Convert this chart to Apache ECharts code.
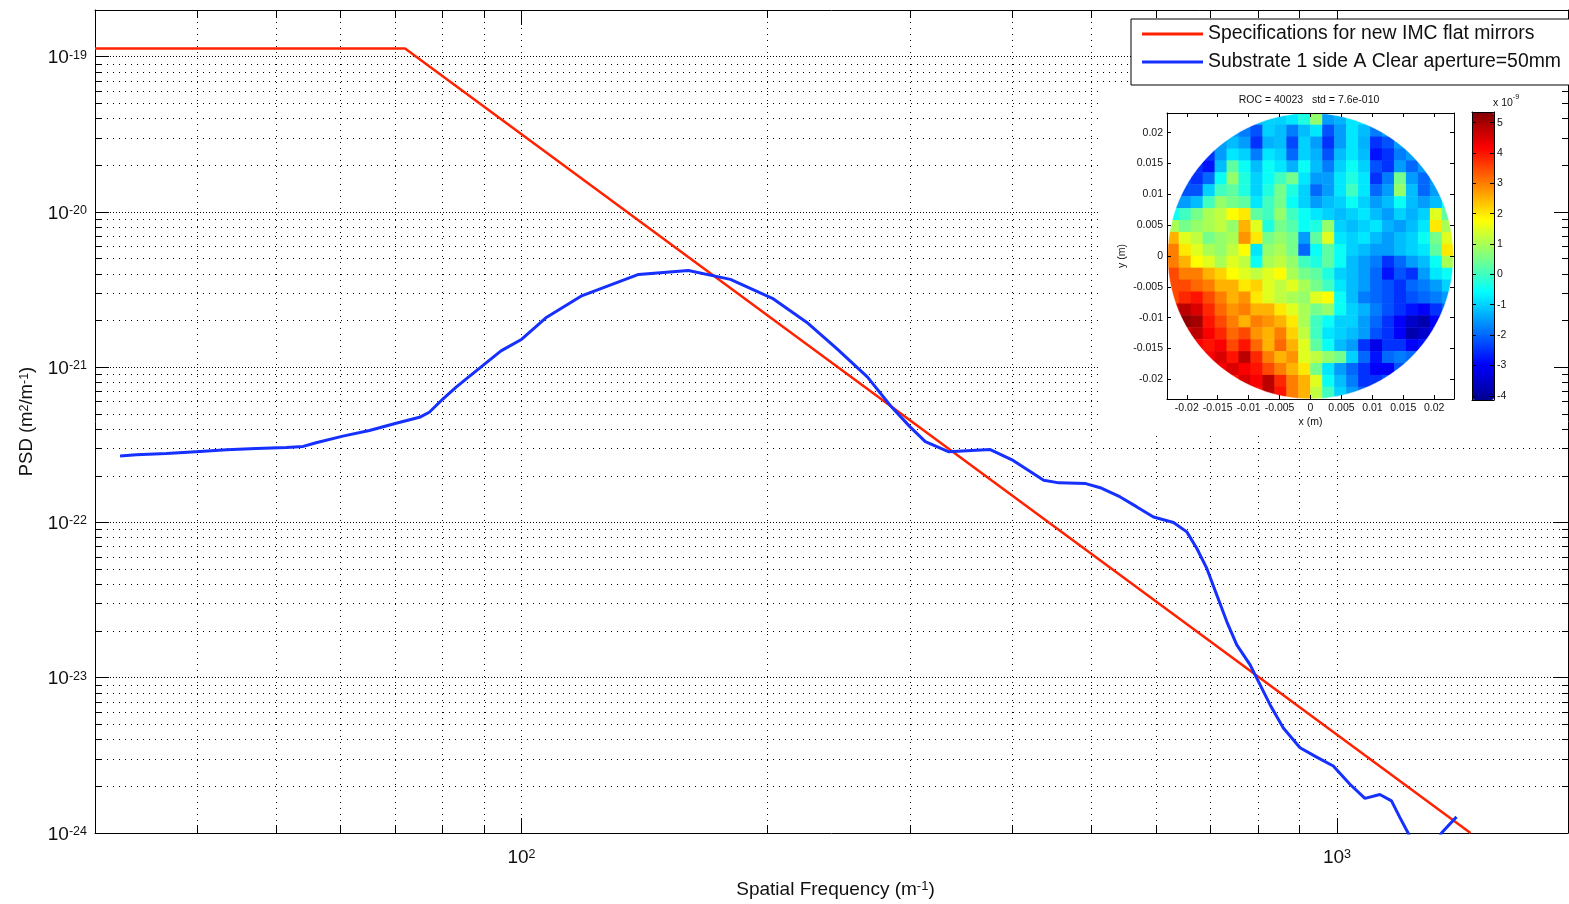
<!DOCTYPE html>
<html>
<head>
<meta charset="utf-8">
<script src="https://cdn.jsdelivr.net/npm/echarts@6/dist/echarts.min.js"></script>
<style>
html,body{margin:0;padding:0;background:#fff;}
#c{width:1569px;height:904px;}
</style>
</head>
<body>
<div id="c"></div>
<script>
// ---------------- data ----------------
const SPEC_NAME = 'Specifications for new IMC flat mirrors';
const SUB_NAME = 'Substrate 1 side A Clear aperture=50mm';

const specFreq = [30, 72.0, 1458];
const specPsd = [1.13e-19, 1.13e-19, 1.0e-24];

const substrateFreq = [32.2, 33.7, 36.7, 39.9, 43.5, 47.3, 51.5, 54.0, 56.0, 60.4, 65.1, 70.2, 75.0, 77.1, 80.1, 83.1, 85.5, 94.4, 100.1, 107.4, 118.3, 139.2, 160.2, 180.4, 203.1, 223.7, 244.0, 265.7, 283.5, 299.6, 312.8, 333.8, 375.7, 400.8, 436.9, 456.2, 492.0, 512.5, 542.3, 568.4, 595.7, 630.3, 654.5, 673.3, 692.5, 712.3, 732.6, 753.6, 782.6, 801.0, 827.8, 859.5, 901.0, 944.3, 989.7, 1037.3, 1082.2, 1128.7, 1166.5, 1194.2, 1222.4, 1281.6, 1343.3, 1401.5];
const substratePsd = [2.68e-22, 2.73e-22, 2.78e-22, 2.86e-22, 2.94e-22, 3.00e-22, 3.04e-22, 3.09e-22, 3.26e-22, 3.60e-22, 3.91e-22, 4.36e-22, 4.76e-22, 5.13e-22, 6.24e-22, 7.42e-22, 8.39e-22, 1.275e-21, 1.515e-21, 2.10e-21, 2.87e-21, 3.96e-21, 4.20e-21, 3.68e-21, 2.78e-21, 1.95e-21, 1.31e-21, 8.64e-22, 5.65e-22, 4.13e-22, 3.32e-22, 2.86e-22, 2.95e-22, 2.51e-22, 1.87e-22, 1.80e-22, 1.78e-22, 1.675e-22, 1.46e-22, 1.26e-22, 1.086e-22, 9.99e-23, 8.70e-23, 6.80e-23, 5.06e-23, 3.41e-23, 2.30e-23, 1.63e-23, 1.21e-23, 9.48e-24, 6.71e-24, 4.75e-24, 3.54e-24, 3.08e-24, 2.70e-24, 2.06e-24, 1.67e-24, 1.77e-24, 1.61e-24, 1.26e-24, 1.0e-24, 6.0e-25, 1.0e-24, 1.27e-24];

// axis ranges and ticks
const X_MIN = 30, X_MAX = 1920;
const Y_MIN = 1e-24, Y_MAX = 2e-19;
const xDecadeTicks = [100, 1000];
const xMinorTicks = [40, 50, 60, 70, 80, 90, 100, 200, 300, 400, 500, 600, 700, 800, 900, 1000];
const yDecadeExponents = [-24, -23, -22, -21, -20, -19];
const yMinorMantissas = [2, 3, 4, 5, 6, 7, 8, 9];
const yMinorExponents = [-24, -23, -22, -21, -20];

// inset surface map (units of 1e-9 m), rows top (y=+) to bottom, 24 x 24 cells
const _ = null;
const INSET_LIM = 0.0232;
const CIRCLE_R = 0.0231;
const insetTicks = [-0.02, -0.015, -0.01, -0.005, 0, 0.005, 0.01, 0.015, 0.02];
const colorbarTicks = [-4, -3, -2, -1, 0, 1, 2, 3, 4, 5];
const CB_MIN = -4.14, CB_MAX = 5.35;
const surfaceRows = [
  [_,_,_,_,_,_,_, -1.2,-1,-1,-0.8,-0.3,0.8,-1.5,-1.3,-0.8,-0.8, _,_,_,_,_,_,_],
  [_,_,_,_,_, -1.5,-1.8,-2.2,-1,-1.2,-1.8,-1.2,-0.8,-2.2,-1.5,-0.8,-1.2,-1.8,-1.5, _,_,_,_,_],
  [_,_,_,_, -1.5,-1.2,-1.5,-2.5,-1.3,-1.2,-2.3,-1,-1.5,-2.5,-1.5,-0.8,-1.3,-2.5,-2.2,-1.5, _,_,_,_],
  [_,_, -2,-2.5,-1.5,-0.8,-1,-1.8,-0.8,-1,-2,-1,-1.3,-2.2,-1.2,-0.8,-1.2,-2.8,-2.5,-1.8,-1.5,-1.2, _,_],
  [_,_, -2.5,-2.8,-1.2,0.3,-0.5,-1.2,-0.5,-0.8,-1.3,-0.5,-1.2,-1.8,-1,-0.5,-1,-2.2,-2.5,-1.5,-2,-1.5, _,_],
  [_, -2.2,-2.5,-2,-0.5,0.8,-0.3,-1,-0.5,0,0.5,-0.8,-1.5,-1.5,-0.8,-0.3,-0.8,-2.5,-1.8,0.5,-1.5,-2,-1.5, _],
  [-1.8,-2.2,-2.2,-1,0,0.3,-0.3,-1,-0.3,0.5,-0.3,-1,-2,-1.5,-0.8,0,-0.8,-2,-1.5,0.8,-1.2,-2,-1.5,-1],
  [-1.5,-1.5,-1.2,0,0.8,0.5,0.3,-0.8,0,0.5,-0.5,-1,-1.5,-1.2,-1,-0.5,-1,-1.5,-1.2,-0.5,-1.2,-1.5,-1.2,-0.5],
  [-0.5,0,0.5,1,1.2,1.8,2,0.3,0,0.8,0,-0.5,-0.8,-1,-1.2,-1,-0.8,-1.2,-1.5,-1,-1.3,-1,1.5,0.3],
  [1,0.5,0.8,1,1.2,0.8,2.5,1.5,-0.3,0.5,0.2,-0.5,-0.3,0.8,-1,-1.2,-1,-0.8,-1.3,-1.5,-1.2,-0.8,2,1],
  [2.5,1.5,1.2,0.5,0.8,1,2.8,2,0.5,0.8,0.5,-1.5,0.3,1.5,-0.8,-1,-0.8,-1.2,-1.5,-1.2,-1,-0.5,0.5,1.5],
  [3,2,1.5,1,0.8,1.2,1.8,-0.8,0.8,1,0.5,-2,-0.5,0.3,-0.5,-1,-1.2,-1.5,-1.5,-1.2,-1,-0.8,0.3,2],
  [3,2.5,1.8,1.5,1,1.5,1.2,-0.5,1,1.2,0.8,0,-0.3,0.3,-0.5,-1.2,-1.5,-1.8,-2.5,-2,-1.5,-1.2,-0.5,1],
  [3.5,3,3,2.5,2.2,1.8,1.5,1.2,1.5,1.8,1,0.5,0.3,-0.3,-1,-1.2,-1.5,-2,-2.8,-2.2,-2.5,-1.5,-0.8,-0.5],
  [3.5,3.5,3.2,3,2.5,2.5,2,2.2,1.5,1.2,1.5,1,0.5,0,-0.8,-1.2,-1.5,-2,-2.2,-2.5,-2,-1.8,-1.5,-1],
  [3.5,3.8,4,3.5,3,2.5,2.8,2,1.5,1.2,1,0.8,1.5,1.8,-0.5,-1.2,-1.8,-2,-2.2,-2.5,-2.2,-2,-1.8,-1.5],
  [4.5,4.8,4.5,3.8,3.2,2.8,3,2.5,2.5,2,1.5,1,0.5,0.8,-0.5,-1,-1.3,-1.8,-2.2,-2.5,-2.8,-3,-2.5,-2],
  [4.5,5.2,5,4,3.5,3,2.5,3,2.8,2.5,2,1,0,-0.5,-1,-1,-1.5,-2,-2.5,-3,-3.5,-3.8,-3,-2.5],
  [_, 4.5,4.8,4.2,3.8,3.2,3.5,2.8,2.5,3,2.2,1.2,0,-0.8,-1,-1.2,-1.5,-2.2,-2.5,-3,-3.8,-3.5,-3, _],
  [_, 4,4.2,4,4.2,3.5,4,3.2,2.5,3.2,2.5,1.5,0.3,-0.5,-1.2,-1.5,-2.5,-3.2,-2.5,-2.5,-3,-2.8,-2.5, _],
  [_,_, 4,4.2,4.5,4,4.8,3.8,3,2.5,2.8,1.5,1.2,0.8,0.5,-1,-2,-2.8,-2,-1.8,-2,-2.2, _,_],
  [_,_,_, 4,4.2,4.5,4.2,4,3.5,3,2.5,2,0.5,-0.8,-1.5,-2,-2.5,-3,-3,-2.2,-2, _,_,_],
  [_,_,_,_,_, 4,4.5,4.2,4.8,3.8,3,2.5,1.5,-0.5,-1.2,-1.8,-2.5,-2.5,-2.2, _,_,_,_,_],
  [_,_,_,_,_,_,_, 4,4.8,4,3,2.5,1.2,0,-1,-1.5,-2, _,_,_,_,_,_,_]
];
const jetColors = ['#00008f', '#0000ff', '#0080ff', '#00ffff', '#80ff80', '#ffff00', '#ff8000', '#ff0000', '#800000'];

// ---------------- build ----------------
const L = Math.log10;
const FONT = "'Liberation Sans', Arial, Helvetica, sans-serif";
const TXT = '#111';

const yMinorTicks = [];
yMinorExponents.forEach(e => yMinorMantissas.forEach(m => yMinorTicks.push(m * Math.pow(10, e))));

const cellIdx = surfaceRows[0].map((v, j) => String(j));
const heatData = [];
surfaceRows.forEach((row, i) => row.forEach((v, j) => { if (v !== null) heatData.push([j, i, v]); }));

const tickRich = {
  b: {fontSize: 19, fontFamily: FONT, color: TXT, verticalAlign: 'bottom', lineHeight: 19, padding: [7, 0, 0, 0]},
  s: {fontSize: 12.5, fontFamily: FONT, color: TXT, verticalAlign: 'top', lineHeight: 12.5}
};
const pow10Fmt = v => '{b|10}{s|' + Math.round(v) + '}';

function ax(o) {
  const base = {
    type: 'value',
    axisLine: {show: false, onZero: false, lineStyle: {color: '#000', width: 1}},
    axisTick: {show: false},
    axisLabel: {show: false},
    splitLine: {show: false},
    silent: true
  };
  const r = Object.assign({}, base, o);
  r.axisLine = Object.assign({}, base.axisLine, o.axisLine || {});
  return r;
}
const tickStyle = {color: '#000', width: 1};
const insetLabel = {fontSize: 10.5, fontFamily: FONT, color: TXT};

const option = {
  animation: false,
  backgroundColor: '#fff',
  grid: [
    {left: 95, top: 10, right: 1, bottom: 68},
    {left: 1167, top: 113, width: 287, height: 286},
    {left: 1167, top: 113, width: 287, height: 286},
    {left: 1472, top: 112, width: 22, height: 288}
  ],
  xAxis: [
    ax({gridIndex: 0, position: 'bottom', min: L(X_MIN), max: L(X_MAX),
      axisLine: {show: true},
      axisTick: {show: true, inside: true, length: 8, customValues: xMinorTicks.map(L), lineStyle: tickStyle},
      splitLine: {show: true, lineStyle: {color: '#000', width: 1, type: [1, 5]}}, z: 0}),
    ax({gridIndex: 0, position: 'bottom', min: L(X_MIN), max: L(X_MAX),
      axisTick: {show: true, inside: true, length: 15, customValues: xDecadeTicks.map(L), lineStyle: tickStyle},
      axisLabel: {show: true, customValues: xDecadeTicks.map(L), formatter: pow10Fmt, rich: tickRich, margin: 15},
      name: '{t|Spatial Frequency (m}{s|-1}{t|)}', nameLocation: 'middle', nameGap: 47,
      nameTextStyle: {padding: [0, 0, 0, 8], rich: {
        t: {fontSize: 19, fontFamily: FONT, color: TXT, verticalAlign: 'bottom', lineHeight: 19, padding: [6, 0, 0, 0]},
        s: {fontSize: 13, fontFamily: FONT, color: TXT, verticalAlign: 'top', lineHeight: 13}}},
      z: 0}),
    ax({gridIndex: 0, position: 'top', min: L(X_MIN), max: L(X_MAX), axisLine: {show: true},
      axisTick: {show: true, inside: true, length: 8, customValues: xMinorTicks.map(L), lineStyle: tickStyle}, z: 6}),
    ax({gridIndex: 0, position: 'top', min: L(X_MIN), max: L(X_MAX),
      axisTick: {show: true, inside: true, length: 15, customValues: xDecadeTicks.map(L), lineStyle: tickStyle}, z: 6}),
    ax({gridIndex: 1, position: 'bottom', min: -INSET_LIM, max: INSET_LIM, axisLine: {show: true},
      axisTick: {show: true, inside: true, length: 4, customValues: insetTicks, lineStyle: tickStyle},
      axisLabel: Object.assign({show: true, customValues: insetTicks, margin: 4, formatter: v => String(v)}, insetLabel),
      name: 'x (m)', nameLocation: 'middle', nameGap: 18, nameTextStyle: insetLabel, z: 6}),
    ax({gridIndex: 1, position: 'top', min: -INSET_LIM, max: INSET_LIM, axisLine: {show: true},
      axisTick: {show: true, inside: true, length: 4, customValues: insetTicks, lineStyle: tickStyle}, z: 6}),
    {type: 'category', gridIndex: 2, data: cellIdx, show: false},
    ax({gridIndex: 3, position: 'bottom', min: 0, max: 1, axisLine: {show: true}, z: 6}),
    ax({gridIndex: 3, position: 'top', min: 0, max: 1, axisLine: {show: true}, z: 6})
  ],
  yAxis: [
    ax({gridIndex: 0, position: 'left', min: L(Y_MIN), max: L(Y_MAX), axisLine: {show: true},
      axisTick: {show: true, inside: true, length: 6, customValues: yMinorTicks.map(L), lineStyle: tickStyle},
      splitLine: {show: true, lineStyle: {color: '#000', width: 1, type: [1, 5]}}, z: 0}),
    ax({gridIndex: 0, position: 'left', min: L(Y_MIN), max: L(Y_MAX),
      axisTick: {show: true, inside: true, length: 14, customValues: yDecadeExponents, lineStyle: tickStyle},
      axisLabel: {show: true, customValues: yDecadeExponents, formatter: pow10Fmt, rich: tickRich, margin: 8, padding: [5, 0, 2, 0]},
      splitLine: {show: true, lineStyle: {color: '#000', width: 1, type: [1, 2]}},
      name: '{t|PSD (m}{s|2}{t|/m}{s|-1}{t|)}', nameLocation: 'middle', nameGap: 58, nameRotate: 90,
      nameTextStyle: {rich: {
        t: {fontSize: 18.5, fontFamily: FONT, color: TXT, verticalAlign: 'bottom', lineHeight: 18.5, padding: [6, 0, 0, 0]},
        s: {fontSize: 12.5, fontFamily: FONT, color: TXT, verticalAlign: 'top', lineHeight: 12.5}}},
      z: 0}),
    ax({gridIndex: 0, position: 'right', min: L(Y_MIN), max: L(Y_MAX), axisLine: {show: true},
      axisTick: {show: true, inside: true, length: 6, customValues: yMinorTicks.map(L), lineStyle: tickStyle}, z: 6}),
    ax({gridIndex: 0, position: 'right', min: L(Y_MIN), max: L(Y_MAX),
      axisTick: {show: true, inside: true, length: 14, customValues: yDecadeExponents, lineStyle: tickStyle}, z: 6}),
    ax({gridIndex: 1, position: 'left', min: -INSET_LIM, max: INSET_LIM, axisLine: {show: true},
      axisTick: {show: true, inside: true, length: 4, customValues: insetTicks, lineStyle: tickStyle},
      axisLabel: Object.assign({show: true, customValues: insetTicks, margin: 4, formatter: v => String(v)}, insetLabel),
      name: 'y (m)', nameLocation: 'middle', nameGap: 39, nameRotate: 90, nameTextStyle: insetLabel, z: 6}),
    ax({gridIndex: 1, position: 'right', min: -INSET_LIM, max: INSET_LIM, axisLine: {show: true},
      axisTick: {show: true, inside: true, length: 4, customValues: insetTicks, lineStyle: tickStyle}, z: 6}),
    {type: 'category', gridIndex: 2, data: cellIdx, inverse: true, show: false},
    ax({gridIndex: 3, position: 'right', min: CB_MIN, max: CB_MAX, axisLine: {show: true},
      axisTick: {show: true, inside: true, length: 4, customValues: colorbarTicks, lineStyle: tickStyle},
      axisLabel: Object.assign({show: true, customValues: colorbarTicks, margin: 3}, insetLabel), z: 6}),
    ax({gridIndex: 3, position: 'left', min: CB_MIN, max: CB_MAX, axisLine: {show: true},
      axisTick: {show: true, inside: true, length: 4, customValues: colorbarTicks, lineStyle: tickStyle}, z: 6})
  ],
  legend: {
    data: [{name: SPEC_NAME, icon: 'rect'}, {name: SUB_NAME, icon: 'rect'}],
    orient: 'vertical', left: 1131, top: 19,
    padding: [5, 60, 13, 11],
    itemWidth: 61, itemHeight: 3, itemGap: 8,
    backgroundColor: '#fff', borderColor: '#000', borderWidth: 1, borderRadius: 0,
    textStyle: {fontSize: 19.4, lineHeight: 20, fontFamily: FONT, color: TXT},
    selectedMode: false, z: 8
  },
  visualMap: {
    type: 'continuous', min: CB_MIN, max: CB_MAX, seriesIndex: 2,
    left: 1472, top: 112, padding: 0, itemWidth: 22, itemHeight: 288,
    calculable: false, hoverLink: false, showLabel: false,
    inRange: {color: jetColors}, z: 5
  },
  graphic: {elements: [
    {id: 'insetBg', type: 'rect', shape: {x: 1098, y: 86, width: 462, height: 350}, style: {fill: '#fff'}, z: 1, silent: true},
    {id: 'insetTitle', type: 'text', x: 1309, y: 100, z: 6, silent: true,
      style: {text: 'ROC = 40023   std = 7.6e-010', fontSize: 10.5, fontFamily: FONT, fill: TXT, align: 'center', verticalAlign: 'middle'}},
    {id: 'cbUnit', type: 'text', x: 1493, y: 109, z: 6, silent: true,
      style: {text: '{a|x 10}{s|-9}', align: 'left', verticalAlign: 'bottom',
        rich: {a: {fontSize: 10.5, fontFamily: FONT, fill: TXT, verticalAlign: 'bottom', padding: [5, 0, 0, 0]},
               s: {fontSize: 7.5, fontFamily: FONT, fill: TXT, verticalAlign: 'top'}}}}
  ]},
  series: [
    {name: SPEC_NAME, type: 'line', xAxisIndex: 0, yAxisIndex: 0,
      data: specFreq.map((f, i) => [L(f), L(specPsd[i])]),
      symbol: 'none', showSymbol: false, clip: true, silent: true,
      lineStyle: {color: '#ff2200', width: 2.5}, itemStyle: {color: '#ff2200'}, z: 2},
    {name: SUB_NAME, type: 'line', xAxisIndex: 0, yAxisIndex: 0,
      data: substrateFreq.map((f, i) => [L(f), L(substratePsd[i])]),
      symbol: 'none', showSymbol: false, clip: true, silent: true,
      lineStyle: {color: '#1530ff', width: 3}, itemStyle: {color: '#1530ff'}, z: 2},
    {type: 'heatmap', xAxisIndex: 6, yAxisIndex: 6, data: heatData, silent: true, z: 2,
      emphasis: {disabled: true}, progressive: 0}
  ]
};

const chart = echarts.init(document.getElementById('c'), null, {renderer: 'canvas', width: 1569, height: 904});
chart.setOption(option);

// circular aperture mask (white corners), placed through the inset's own axes
const finder = {xAxisIndex: 4, yAxisIndex: 4};
const c0 = chart.convertToPixel(finder, [0, 0]);
const cr = chart.convertToPixel(finder, [CIRCLE_R, 0]);
const tl = chart.convertToPixel(finder, [-INSET_LIM, INSET_LIM]);
const br = chart.convertToPixel(finder, [INSET_LIM, -INSET_LIM]);
const R = cr[0] - c0[0];
const x0 = tl[0] - 1, y0 = tl[1] - 1, x1 = br[0] + 1, y1 = br[1] + 1;
function arc(a0, a1) {
  const pts = [];
  const n = 40;
  for (let k = 0; k <= n; k++) {
    const a = a0 + (a1 - a0) * k / n;
    pts.push([c0[0] + R * Math.cos(a), c0[1] + R * Math.sin(a)]);
  }
  return pts;
}
const P = Math.PI;
const corners = [
  [[x0, y0], [x0, c0[1]]].concat(arc(P, 1.5 * P), [[c0[0], y0]]),
  [[x1, y0], [c0[0], y0]].concat(arc(1.5 * P, 2 * P), [[x1, c0[1]]]),
  [[x1, y1], [x1, c0[1]]].concat(arc(0, 0.5 * P), [[c0[0], y1]]),
  [[x0, y1], [c0[0], y1]].concat(arc(0.5 * P, P), [[x0, c0[1]]])
];
chart.setOption({graphic: {elements: corners.map((pts, k) => ({
  id: 'mask' + k, type: 'polygon', shape: {points: pts}, style: {fill: '#fff', stroke: '#fff', lineWidth: 0.5}, z: 3, silent: true
}))}});
</script>
</body>
</html>
